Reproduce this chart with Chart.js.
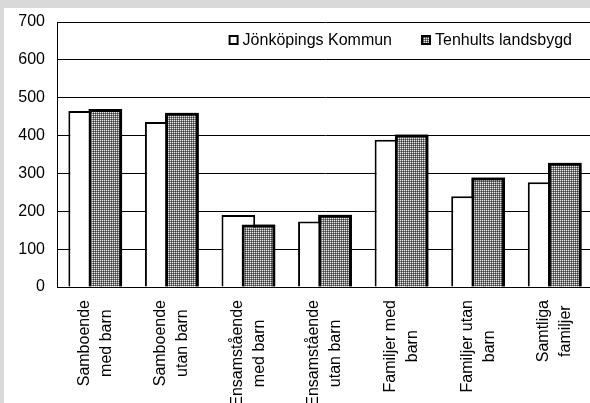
<!DOCTYPE html>
<html>
<head>
<meta charset="utf-8">
<script src="https://cdn.jsdelivr.net/npm/chart.js@4"></script>
<style>
  html, body { margin: 0; padding: 0; overflow: hidden; background: #d9d9d9; }
  #wrap { position: absolute; left: 4px; top: 8px; width: 600px; height: 395px; background: #fff; }
</style>
</head>
<body>
<div id="wrap"><canvas id="chart"></canvas></div>
<script>
const categories = [
    ['Samboende', 'med barn'],
    ['Samboende', 'utan barn'],
    ['Ensamstående', 'med barn'],
    ['Ensamstående', 'utan barn'],
    ['Familjer med', 'barn'],
    ['Familjer utan', 'barn'],
    ['Samtliga', 'familjer']
];
const kommun = [465, 436, 190, 173, 389, 240, 277];
const tenhult = [470, 460, 165, 191, 403, 289, 328];
const seriesNames = ['Jönköpings Kommun', 'Tenhults landsbygd'];
const yMin = 0, yMax = 700, yStep = 100;

const FONT = '"Liberation Sans", Arial, sans-serif';
const FSIZE = 16;
const ctx = document.getElementById('chart').getContext('2d');

// small dotted tile for the dark hatched series
const tile = document.createElement('canvas');
tile.width = 2; tile.height = 2;
const t = tile.getContext('2d');
t.fillStyle = '#7a7a7a'; t.fillRect(0, 0, 2, 2);
t.fillStyle = '#e6e6e6'; t.fillRect(0, 0, 1, 1);
t.fillStyle = '#3c3c3c'; t.fillRect(1, 1, 1, 1);
const hatch = ctx.createPattern(tile, 'repeat');

const fills = ['#ffffff', hatch];

// second series overlaps the first, so paint it again on top
const overlapTop = {
    id: 'overlapTop',
    afterDatasetsDraw(chart) {
        const c = chart.ctx;
        const a = chart.chartArea;
        c.save();
        c.beginPath();
        c.rect(a.left, a.top - 5, a.right - a.left, a.bottom - a.top + 5);
        c.clip();
        chart.getDatasetMeta(1).controller.draw();
        c.restore();
    }
};

// rotated, centred category labels under the axis
const xLabels = {
    id: 'xLabels',
    afterDraw(chart) {
        const xs = chart.scales.x;
        const c = chart.ctx;
        c.save();
        c.font = FSIZE + 'px ' + FONT;
        c.fillStyle = '#000';
        c.textAlign = 'center';
        c.textBaseline = 'middle';
        chart.data.labels.forEach((lab, i) => {
            const x = xs.getPixelForTick(i);
            const w = Math.max(...lab.map(s => c.measureText(s).width));
            const yc = chart.chartArea.bottom + 13 + w / 2;
            c.save();
            c.translate(x, yc);
            c.rotate(-Math.PI / 2);
            lab.forEach((s, j) => c.fillText(s, 0, (j - (lab.length - 1) / 2) * 22));
            c.restore();
        });
        c.restore();
    }
};

// legend inside the plot, top right
const legendIn = {
    id: 'legendIn',
    afterDraw(chart) {
        const c = chart.ctx;
        const a = chart.chartArea;
        c.save();
        c.font = FSIZE + 'px ' + FONT;
        c.textBaseline = 'middle';
        c.textAlign = 'left';
        const box = 10, gapText = 4, gapItem = 29;
        const widths = seriesNames.map(s => c.measureText(s).width);
        let total = 0;
        widths.forEach((w, i) => { total += box + gapText + w + (i ? gapItem : 0); });
        let x = a.right - 21 - total;
        const y = a.top + 18;
        seriesNames.forEach((s, i) => {
            c.fillStyle = fills[i];
            c.fillRect(x, y - box / 2, box, box);
            c.strokeStyle = '#000';
            c.lineWidth = 2;
            c.strokeRect(x + 1, y - box / 2 + 1, box - 2, box - 2);
            c.fillStyle = '#000';
            c.fillText(s, x + box + gapText, y + 1);
            x += box + gapText + widths[i] + gapItem;
        });
        c.restore();
    }
};

new Chart(ctx, {
    type: 'bar',
    data: {
        labels: categories,
        datasets: [{
            label: seriesNames[0],
            data: kommun,
            backgroundColor: fills[0],
            borderColor: '#000',
            borderWidth: 2
        }, {
            label: seriesNames[1],
            data: tenhult,
            backgroundColor: fills[1],
            borderColor: '#000',
            borderWidth: 3
        }]
    },
    options: {
        responsive: true,
        maintainAspectRatio: false,
        animation: false,
        categoryPercentage: 0.527,
        barPercentage: 1.67,
        layout: { padding: { top: 14, right: 11, bottom: 116, left: 0 } },
        plugins: {
            legend: { display: false },
            tooltip: { enabled: false }
        },
        scales: {
            x: {
                grid: { display: false, drawTicks: false },
                border: { color: '#000', width: 1 },
                ticks: { display: false }
            },
            y: {
                min: yMin,
                max: yMax,
                afterFit: (s) => { s.width = 53; s.paddingTop = 0; s.paddingBottom = 0; },
                grid: { color: '#000', lineWidth: 1, drawTicks: false },
                border: { color: '#000', width: 1 },
                ticks: {
                    stepSize: yStep,
                    padding: 12,
                    color: '#000',
                    font: { family: FONT, size: FSIZE }
                }
            }
        }
    },
    plugins: [overlapTop, xLabels, legendIn]
});
</script>
</body>
</html>
